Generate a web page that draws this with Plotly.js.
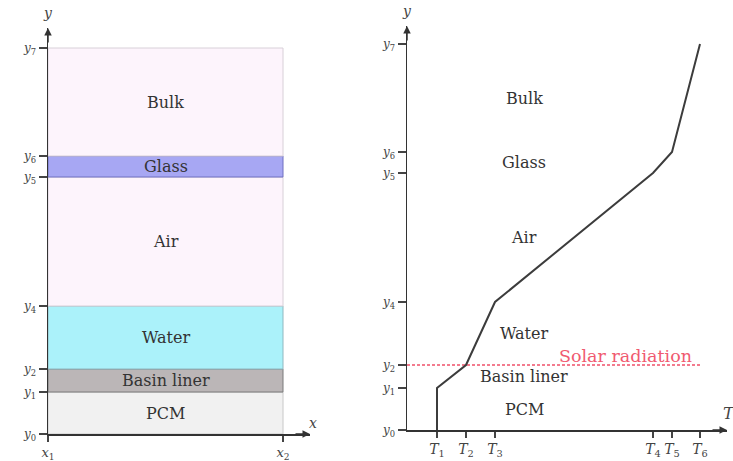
<!DOCTYPE html>
<html><head><meta charset="utf-8">
<script src="https://cdn.plot.ly/plotly-3.0.1.min.js"></script>
<style>html,body{margin:0;padding:0;background:#fff}#chart{width:733px;height:461px}</style>
</head><body><div id="chart"></div>
<script>
// ---- data ----
const layerNames = ['PCM', 'Basin liner', 'Water', 'Air', 'Glass', 'Bulk'];
const yLevels = [0, 42, 65, 128, 257, 278, 386];
const yTickNames = ['0', '1', '2', '4', '5', '6', '7'];
const xBounds = [0, 235];
const xTickNames = ['1', '2'];
const tempTickVals = [30, 59, 88, 246, 265, 293];
const tempTickNames = ['1', '2', '3', '4', '5', '6'];
const profileT = [30, 30, 59, 88, 246, 265, 293];
const profileY = [0, 42, 65, 128, 257, 278, 386];
const solarLevel = 65;
const solarEnd = 293;

// ---- styles ----
const layerFills = ['#f1f1f1', '#bbb6b7', '#abf2fa', '#fdf4fc', '#a7a7f3', '#fdf4fc'];
const layerLines = ['#c8c8c8', '#7a7a7a', '#8fb8c0', '#d8d0d8', '#6f6fc0', '#d8d0d8'];
const serif = 'DejaVu Serif, Liberation Serif, serif';
const W = 733, H = 461;

const traces = [];
layerNames.forEach((n, i) => {
  const lo = yLevels[i], hi = yLevels[i + 1];
  traces.push({
    x: [xBounds[0], xBounds[1], xBounds[1], xBounds[0], xBounds[0]],
    y: [lo, lo, hi, hi, lo],
    mode: 'lines', fill: 'toself', fillcolor: layerFills[i],
    line: {color: layerLines[i], width: 1},
    xaxis: 'x', yaxis: 'y', hoverinfo: 'skip', showlegend: false
  });
});
traces.push({
  x: [0, solarEnd], y: [solarLevel, solarLevel], mode: 'lines',
  line: {color: '#f0506a', width: 1.5, dash: '3px,2px'},
  xaxis: 'x2', yaxis: 'y2', hoverinfo: 'skip', showlegend: false
});
traces.push({
  x: profileT, y: profileY, mode: 'lines',
  line: {color: '#3c3c3c', width: 2},
  xaxis: 'x2', yaxis: 'y2', hoverinfo: 'skip', showlegend: false
});

const annotations = [];
const labelFont = {family: serif, size: 16, color: '#333'};
const midX = (xBounds[0] + xBounds[1]) / 2;
layerNames.forEach((n, i) => {
  const mid = (yLevels[i] + yLevels[i + 1]) / 2;
  annotations.push({x: midX, y: mid, xref: 'x', yref: 'y', text: n, showarrow: false, font: labelFont});
  annotations.push({x: 117, y: mid, xref: 'x2', yref: 'y2', text: n, showarrow: false, font: labelFont});
});
annotations.push({x: 218, y: solarLevel + 9, xref: 'x2', yref: 'y2', text: 'Solar radiation',
  showarrow: false, font: {family: serif, size: 17.5, color: '#f05a70'}});

function arrow(xr, yr, x, y, ax, ay) {
  return {x: x, y: y, ax: ax, ay: ay, xref: xr, yref: yr, axref: xr, ayref: yr, text: '',
    showarrow: true, arrowhead: 2, arrowsize: 1, arrowwidth: 1.5, arrowcolor: '#333'};
}
annotations.push(arrow('x', 'y', 0, 406, 0, 390));
annotations.push(arrow('x', 'y', 262, 0, 246, 0));
annotations.push(arrow('x2', 'y2', 0, 404, 0, 388));
annotations.push(arrow('x2', 'y2', 320, 0, 304, 0));
const axLabFont = {family: serif, size: 14, color: '#444'};
function paperLabel(px, py, text, size) {
  return {x: px / W, y: 1 - py / H, xref: 'paper', yref: 'paper', text: text, showarrow: false,
    xanchor: 'center', yanchor: 'middle', font: Object.assign({}, axLabFont, size ? {size: size} : {})};
}
annotations.push(paperLabel(48, 13, '<i>y</i>'));
annotations.push(paperLabel(313, 423, '<i>x</i>'));
annotations.push(paperLabel(407, 11, '<i>y</i>'));
annotations.push(paperLabel(729, 413, '<i>T</i>', 16));

const tickFont = {family: serif, size: 12, color: '#444'};
const sub = (v, s) => '<i>' + v + '</i><sub>' + s + '</sub>';
function axis(extra) {
  return Object.assign({showline: true, linecolor: '#333', linewidth: 1.5, ticks: 'outside',
    ticklen: 6, tickcolor: '#444', tickwidth: 1.2, showgrid: false, zeroline: false,
    fixedrange: true, tickfont: tickFont, tickmode: 'array'}, extra);
}
const layout = {
  width: W, height: H, margin: {l: 0, r: 0, t: 0, b: 0},
  paper_bgcolor: '#fff', plot_bgcolor: 'rgba(0,0,0,0)', showlegend: false,
  xaxis: axis({domain: [48 / W, 310 / W], range: [0, 262], anchor: 'y',
    tickvals: xBounds, ticktext: xTickNames.map(s => sub('x', s)),
    tickfont: {family: serif, size: 13, color: '#444'}}),
  yaxis: axis({domain: [1 - 434 / H, 1 - 28 / H], range: [0, 406], anchor: 'x',
    tickvals: yLevels, ticktext: yTickNames.map(s => sub('y', s)), ticklen: 8}),
  xaxis2: axis({domain: [407 / W, 727 / W], range: [0, 320], anchor: 'y2',
    tickvals: tempTickVals, ticktext: tempTickNames.map(s => sub('T', s)),
    tickfont: {family: serif, size: 14, color: '#444'}}),
  yaxis2: axis({domain: [1 - 430 / H, 1 - 26 / H], range: [0, 404], anchor: 'x2',
    tickvals: yLevels, ticktext: yTickNames.map(s => sub('y', s)), ticklen: 8}),
  annotations: annotations
};
Plotly.newPlot('chart', traces, layout, {displayModeBar: false, staticPlot: true});
</script></body></html>
